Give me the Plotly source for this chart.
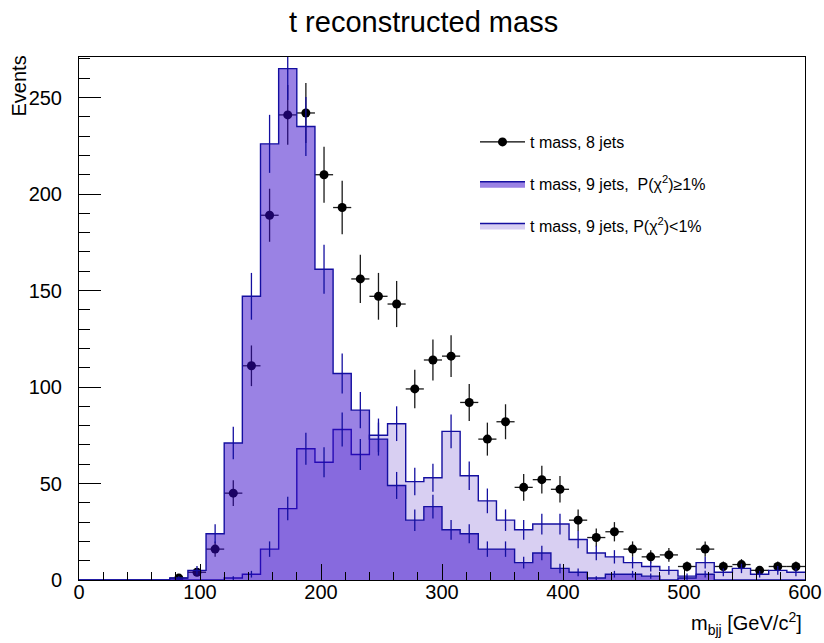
import numpy as np
import plotly.graph_objects as go

# ---------------- data ----------------
bin_edges = list(range(0, 601, 15))            # 40 bins of 15 GeV/c^2
bin_centers = [e + 7.5 for e in bin_edges[:-1]]

# t mass, 8 jets (points)
mass_8jets = [0, 0, 0, 0, 0, 1, 4, 16, 45, 111,
              189, 241, 242, 210, 193, 156, 147, 143, 99, 114,
              116, 92, 73, 82, 48, 52, 47, 31, 22, 25,
              16, 12, 13, 7, 16, 7, 8, 5, 7, 7]

# t mass, 9 jets, P(chi2) >= 1%
mass_9jets_good = [0, 0, 0, 0, 0, 1, 5, 24, 71, 147,
                   226, 265, 235, 161, 107, 88, 73, 49, 31, 38,
                   26, 24, 16, 16, 9, 14, 6, 4, 1, 3,
                   3, 2, 0, 1, 3, 0, 0, 0, 0, 0]

# t mass, 9 jets, P(chi2) < 1%
mass_9jets_bad = [0, 0, 0, 0, 0, 0, 0, 0, 1, 3,
                  16, 37, 68, 61, 78, 65, 75, 81, 51, 53,
                  77, 54, 41, 31, 26, 29, 29, 21, 14, 12,
                  9, 7, 5, 2, 9, 4, 6, 3, 5, 4]

x_ticks = [0, 100, 200, 300, 400, 500, 600]
y_ticks = [0, 50, 100, 150, 200, 250]

# ---------------- styling ----------------
W, H = 824, 643
L, R, T, B = 79, 805, 57, 580
FONT = "Liberation Sans, Arial, Helvetica, sans-serif"
LINE_BLUE = "rgb(20,15,160)"
DARK_FILL = "rgba(53,5,201,0.5)"
LIGHT_FILL = "rgba(60,15,190,0.2)"


def px2x(px):
    return (px - L) / (R - L)


def px2y(py):
    return (B - py) / (B - T)


def step_xy(values):
    return bin_edges, list(values) + [values[-1]]


fig = go.Figure()

# 8-jet points (drawn first so the translucent fills darken them)
m8 = np.array(mass_8jets, dtype=float)
c = np.array(bin_centers)
sel = m8 > 0
fig.add_trace(go.Scatter(
    x=c[sel], y=m8[sel], mode="markers",
    marker=dict(color="black", size=9),
    error_y=dict(type="data", array=np.sqrt(m8[sel]), color="#1a1a1a", thickness=1.3, width=0),
    error_x=dict(type="data", array=np.full(sel.sum(), 7.5), color="#1a1a1a", thickness=1.3, width=0),
    showlegend=False, hoverinfo="x+y",
))

# light histogram (P < 1%)
xs, ys = step_xy(mass_9jets_bad)
fig.add_trace(go.Scatter(
    x=xs, y=ys, mode="lines", line=dict(shape="hv", color=LINE_BLUE, width=1.4),
    fill="tozeroy", fillcolor=LIGHT_FILL,
    name="t mass, 9 jets, P(\u03c7<sup>2</sup>)<1%", legendgroup="c", legendrank=3,
))

# dark histogram (P >= 1%)
xs, ys = step_xy(mass_9jets_good)
fig.add_trace(go.Scatter(
    x=xs, y=ys, mode="lines", line=dict(shape="hv", color=LINE_BLUE, width=1.4),
    fill="tozeroy", fillcolor=DARK_FILL,
    name="t mass, 9 jets,\u00a0 P(\u03c7<sup>2</sup>)\u22651%", legendgroup="b", legendrank=2,
))

# histogram error bars
for vals in (mass_9jets_bad, mass_9jets_good):
    v = np.array(vals, dtype=float)
    s = v > 0
    fig.add_trace(go.Scatter(
        x=c[s], y=v[s], mode="markers",
        marker=dict(size=1, color="rgba(0,0,0,0)"),
        error_y=dict(type="data", array=np.sqrt(v[s]), color=LINE_BLUE, thickness=1.3, width=0),
        showlegend=False, hoverinfo="skip",
    ))

# legend entry for the 8-jet points (line + marker)
fig.add_trace(go.Scatter(
    x=[None], y=[None], mode="lines+markers",
    line=dict(color="black", width=1.3), marker=dict(color="black", size=9),
    name="t mass, 8 jets", legendgroup="a", legendrank=1,
))

axis_common = dict(
    showline=True, linecolor="black", linewidth=1, mirror=True,
    showgrid=False, zeroline=False, ticks="inside", automargin=False,
    tickcolor="black", tickfont=dict(family=FONT, size=20, color="black"),
)

fig.update_xaxes(
    range=[0, 600], tickvals=x_ticks, ticklen=16, ticklabelstandoff=-6,
    minor=dict(dtick=20, ticklen=8, ticks="inside", tickcolor="black"),
    **axis_common,
)
fig.update_yaxes(
    range=[0, 271], tickvals=y_ticks, ticklen=22, ticklabelstandoff=12,
    minor=dict(dtick=10, ticklen=11, ticks="inside", tickcolor="black"),
    **axis_common,
)

fig.update_layout(
    width=W, height=H,
    margin=dict(l=L, r=W - R, t=T, b=H - B, pad=0, autoexpand=False),
    plot_bgcolor="white", paper_bgcolor="white",
    font=dict(family=FONT, color="black"),
    legend=dict(
        x=px2x(475), y=px2y(125), xanchor="left", yanchor="top",
        font=dict(family=FONT, size=16, color="black"),
        bgcolor="rgba(0,0,0,0)", tracegroupgap=18, itemwidth=45,
    ),
    annotations=[
        dict(text="t reconstructed mass", x=px2x(423), y=px2y(22), xref="paper", yref="paper",
             xanchor="center", yanchor="middle", showarrow=False,
             font=dict(family=FONT, size=29, color="black")),
        dict(text="Events", x=px2x(18), y=px2y(54), xref="paper", yref="paper",
             xanchor="center", yanchor="top", textangle=-90, showarrow=False,
             font=dict(family=FONT, size=20, color="black")),
        dict(text="m<sub>bjj</sub> [GeV/c<sup>2</sup>]", x=px2x(804), y=px2y(623),
             xref="paper", yref="paper", xanchor="right", yanchor="middle", showarrow=False,
             font=dict(family=FONT, size=20, color="black")),
    ],
)

fig.write_html("out.html")
